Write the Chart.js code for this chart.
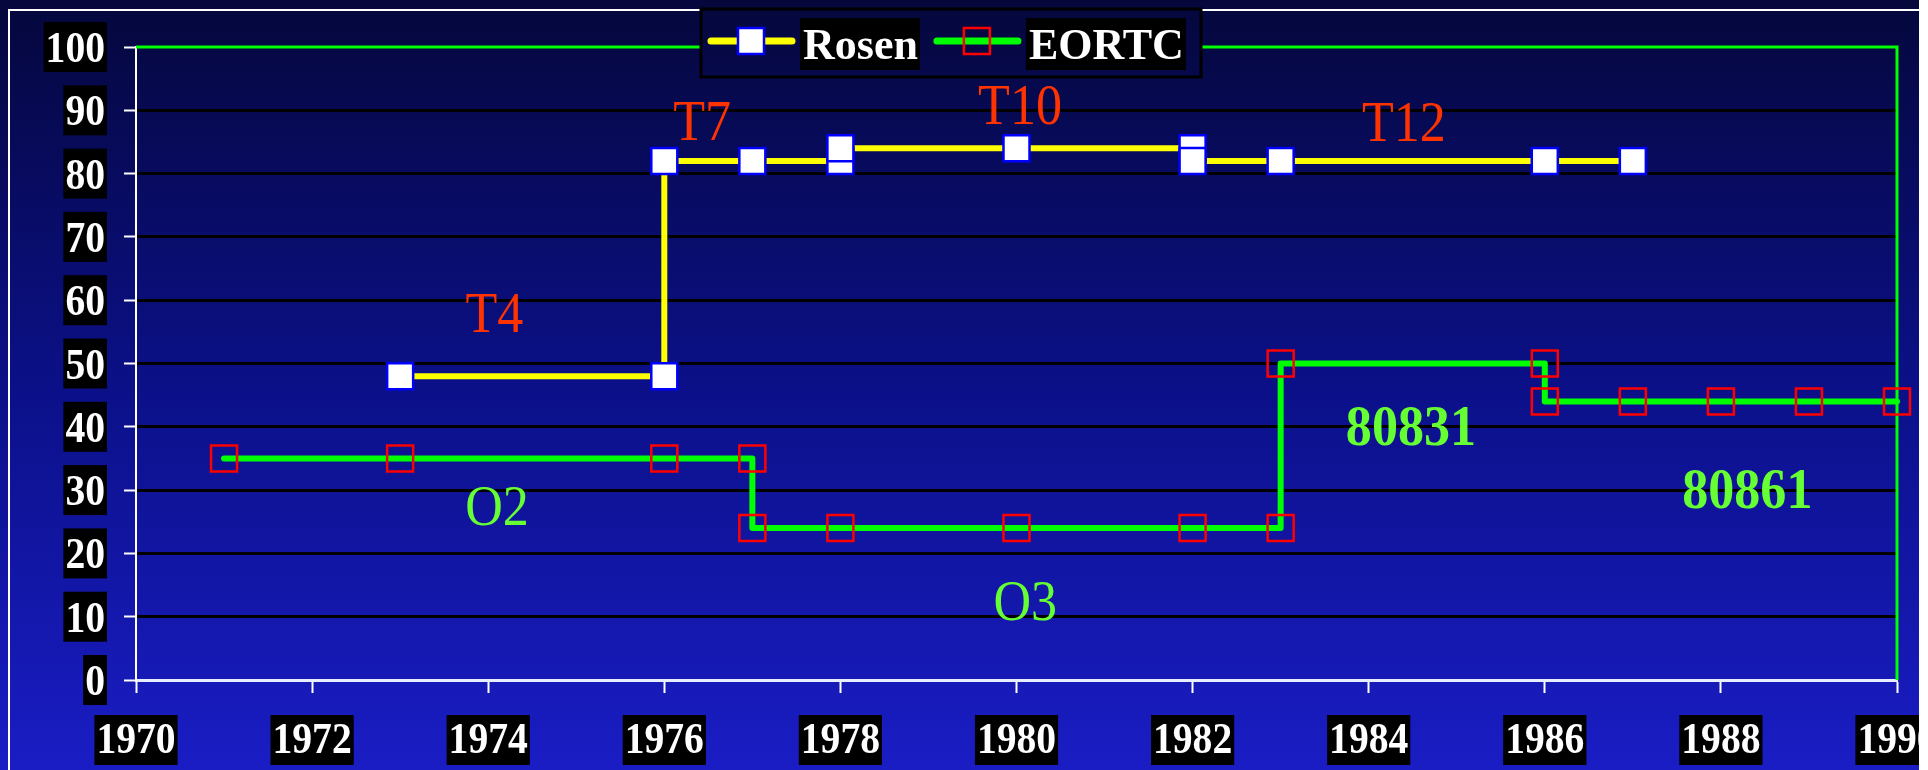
<!DOCTYPE html>
<html>
<head>
<meta charset="utf-8">
<title>Rosen / EORTC</title>
<script src="https://cdn.jsdelivr.net/npm/chart.js@4.4.0/dist/chart.umd.min.js"></script>
<style>
  html, body { margin: 0; padding: 0; background: #0b1088; overflow: hidden; }
  #wrap { position: relative; width: 1928px; height: 770px; }
</style>
</head>
<body>
<div id="wrap"><canvas id="chart" width="1928" height="770"></canvas></div>
<script>
// series
const rosenYears  = [1973, 1976, 1976, 1977, 1978, 1978, 1980, 1982, 1982, 1983, 1986, 1987];
const rosenValues = [48, 48, 82, 82, 82, 84, 84, 84, 82, 82, 82, 82];
const eortcYears  = [1971, 1973, 1976, 1977, 1977, 1978, 1980, 1982, 1983, 1983, 1986, 1986, 1987, 1988, 1989, 1990];
const eortcValues = [35, 35, 35, 35, 24, 24, 24, 24, 24, 50, 50, 44, 44, 44, 44, 44];

// axes
const xTickLabels = [1970, 1972, 1974, 1976, 1978, 1980, 1982, 1984, 1986, 1988, 1990];
const yTickLabels = [0, 10, 20, 30, 40, 50, 60, 70, 80, 90, 100];

// trial labels written on the chart (year, value of the text baseline)
const noteTexts  = ['T4', 'T7', 'T10', 'T12', 'O2', 'O3', '80831', '80861'];
const noteYears  = [1974.07, 1976.43, 1980.04, 1984.4, 1974.1, 1980.1, 1984.48, 1988.3];
const noteValues = [55, 85.3, 87.8, 85.1, 24.5, 9.5, 37.1, 27.2];

const SERIF = '"Liberation Serif", "Times New Roman", serif';

function pairs(xs, ys) {
  return xs.map((x, i) => ({ x: x, y: ys[i] }));
}

function makeBg(ctx, h) {
  const g = ctx.createLinearGradient(0, 0, 0, h);
  g.addColorStop(0, '#05073c');
  g.addColorStop(0.5, '#0b1088');
  g.addColorStop(1, '#1a1dc4');
  return g;
}

function squeezedText(ctx, text, cx, base, font, color, sx) {
  ctx.save();
  ctx.font = font;
  ctx.fillStyle = color;
  ctx.translate(cx, base);
  ctx.scale(sx, 1);
  ctx.textAlign = 'center';
  ctx.textBaseline = 'alphabetic';
  ctx.fillText(text, 0, 0);
  ctx.restore();
}

const backdrop = {
  id: 'backdrop',
  beforeDraw(chart) {
    const ctx = chart.ctx;
    ctx.save();
    ctx.fillStyle = makeBg(ctx, chart.height);
    ctx.fillRect(0, 0, chart.width, chart.height);
    // slide frame
    ctx.strokeStyle = '#ffffff';
    ctx.lineWidth = 2;
    ctx.beginPath();
    ctx.moveTo(9, chart.height);
    ctx.lineTo(9, 10);
    ctx.lineTo(1919, 10);
    ctx.stroke();
    ctx.restore();
  },
  beforeDatasetsDraw(chart) {
    const ctx = chart.ctx;
    const a = chart.chartArea;
    ctx.save();
    ctx.strokeStyle = '#00ff00';
    ctx.lineWidth = 3;
    ctx.beginPath();
    ctx.moveTo(a.left, a.top);
    ctx.lineTo(a.right, a.top);
    ctx.lineTo(a.right, a.bottom);
    ctx.stroke();
    ctx.restore();
  }
};

const tickBoxes = {
  id: 'tickBoxes',
  afterDraw(chart) {
    const ctx = chart.ctx;
    const xs = chart.scales.x, ys = chart.scales.y;
    const a = chart.chartArea;
    const font = 'bold 44px ' + SERIF;
    const sx = 0.9;
    ctx.save();
    ctx.font = font;
    yTickLabels.forEach(v => {
      const t = String(v);
      const py = ys.getPixelForValue(v);
      const w = ctx.measureText(t).width * sx + 4;
      const right = a.left - 29;
      ctx.fillStyle = '#000000';
      ctx.fillRect(right - w, py - 25, w, 50);
      squeezedText(ctx, t, right - w / 2, py + 15, font, '#ffffff', sx);
    });
    xTickLabels.forEach(v => {
      const t = String(v);
      const px = xs.getPixelForValue(v);
      const w = ctx.measureText(t).width * sx + 4;
      const top = a.bottom + 35;
      ctx.fillStyle = '#000000';
      ctx.fillRect(px - w / 2, top, w, 50);
      squeezedText(ctx, t, px, top + 38, font, '#ffffff', sx);
    });
    ctx.restore();
  }
};

const notes = {
  id: 'notes',
  afterDatasetsDraw(chart) {
    const ctx = chart.ctx;
    const xs = chart.scales.x, ys = chart.scales.y;
    noteTexts.forEach((t, i) => {
      const isRosen = t.charAt(0) === 'T';
      const isNum = /^\d/.test(t);
      const font = (isNum ? 'bold ' : '') + '56px ' + SERIF;
      const color = isRosen ? '#ff3300' : '#66ff33';
      squeezedText(ctx, t, xs.getPixelForValue(noteYears[i]), ys.getPixelForValue(noteValues[i]), font, color, 0.93);
    });
  }
};

function drawMarker(ctx, ds, cx, cy) {
  const side = Math.SQRT2 * ds.pointRadius;
  ctx.save();
  ctx.fillStyle = ds.pointBackgroundColor;
  ctx.strokeStyle = ds.pointBorderColor;
  ctx.lineWidth = ds.pointBorderWidth;
  ctx.fillRect(cx - side / 2, cy - side / 2, side, side);
  ctx.strokeRect(cx - side / 2, cy - side / 2, side, side);
  ctx.restore();
}

const legendBox = {
  id: 'legendBox',
  afterDraw(chart) {
    const ctx = chart.ctx;
    const left = 701, top = 9, width = 500, height = 68;
    const midY = 41;
    ctx.save();
    ctx.fillStyle = makeBg(ctx, chart.height);
    ctx.fillRect(left, top, width, height);
    ctx.strokeStyle = '#000000';
    ctx.lineWidth = 3;
    ctx.strokeRect(left, top, width, height);
    const font = 'bold 44px ' + SERIF;
    ctx.font = font;
    let x = left + 10;
    chart.data.datasets.forEach(ds => {
      ctx.strokeStyle = ds.borderColor;
      ctx.lineWidth = 7;
      ctx.lineCap = 'round';
      ctx.beginPath();
      ctx.moveTo(x, midY);
      ctx.lineTo(x + 81, midY);
      ctx.stroke();
      drawMarker(ctx, ds, x + 40, midY);
      x += 89;
      const w = ctx.measureText(ds.label).width + 5;
      ctx.fillStyle = '#000000';
      ctx.fillRect(x, top + 9, w, 52);
      ctx.fillStyle = '#ffffff';
      ctx.textAlign = 'left';
      ctx.textBaseline = 'alphabetic';
      ctx.fillText(ds.label, x + 3, top + 50);
      x += w + 17;
    });
    ctx.restore();
  }
};

// the slide ends before the right edge of the picture
const pageEdge = {
  id: 'pageEdge',
  afterDraw(chart) {
    const ctx = chart.ctx;
    ctx.save();
    ctx.fillStyle = '#ffffff';
    ctx.fillRect(1919, 0, chart.width - 1919, chart.height);
    ctx.restore();
  }
};

const ctx = document.getElementById('chart').getContext('2d');
new Chart(ctx, {
  type: 'line',
  data: {
    datasets: [
      {
        label: 'Rosen',
        data: pairs(rosenYears, rosenValues),
        borderColor: '#ffff00',
        borderWidth: 6,
        pointStyle: 'rect',
        pointRadius: 18.4,
        pointHoverRadius: 18.4,
        pointBackgroundColor: '#ffffff',
        pointBorderColor: '#0000ff',
        pointBorderWidth: 2.5,
        tension: 0,
        clip: false
      },
      {
        label: 'EORTC',
        data: pairs(eortcYears, eortcValues),
        borderColor: '#00ff00',
        borderWidth: 6,
        borderJoinStyle: 'round',
        borderCapStyle: 'round',
        pointStyle: 'rect',
        pointRadius: 18.4,
        pointHoverRadius: 18.4,
        pointBackgroundColor: 'rgba(0,0,0,0)',
        pointBorderColor: '#ff0000',
        pointBorderWidth: 2.5,
        tension: 0,
        clip: false
      }
    ]
  },
  options: {
    responsive: false,
    animation: false,
    devicePixelRatio: 1,
    layout: { padding: { top: 47, right: 31, left: 0, bottom: 0 } },
    plugins: { legend: { display: false }, tooltip: { enabled: false } },
    scales: {
      x: {
        type: 'linear',
        min: 1970,
        max: 1990,
        ticks: { stepSize: 2, display: false },
        grid: { drawOnChartArea: false, drawTicks: true, tickLength: 13, tickColor: '#ffffff', tickWidth: 2 },
        border: { color: '#e8eeff', width: 3 },
        afterFit(scale) { scale.height = 90; }
      },
      y: {
        min: 0,
        max: 100,
        ticks: { stepSize: 10, display: false },
        grid: {
          color: c => (c.tick && (c.tick.value === 0 || c.tick.value === 100)) ? 'rgba(0,0,0,0)' : '#000000',
          lineWidth: 3,
          drawTicks: true,
          tickLength: 12,
          tickColor: '#ffffff',
          tickWidth: 2
        },
        border: { color: '#ffffff', width: 2 },
        afterFit(scale) { scale.width = 136; }
      }
    }
  },
  plugins: [backdrop, notes, tickBoxes, legendBox, pageEdge]
});
</script>
</body>
</html>
